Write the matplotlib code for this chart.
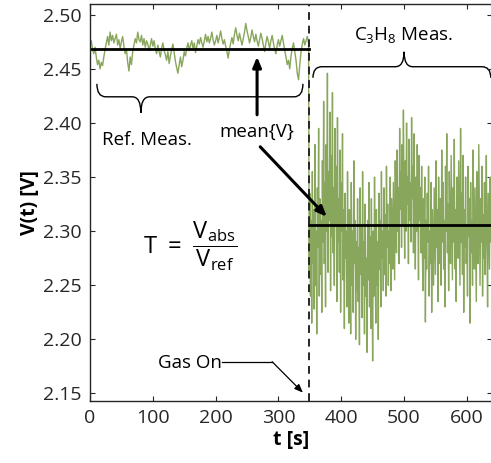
import numpy as np
import matplotlib.pyplot as plt
from matplotlib.path import Path
from matplotlib.patches import PathPatch

plt.rcParams['font.family'] = ['Open Sans', 'DejaVu Sans']
plt.rcParams['mathtext.fontset'] = 'custom'
plt.rcParams['mathtext.rm'] = 'Open Sans'
plt.rcParams['mathtext.it'] = 'Open Sans'
plt.rcParams['mathtext.bf'] = 'Open Sans:bold'

# reference measurement, one value every 2 s from t = 0 to 348 s
ref_values = [
    2.472, 2.476, 2.468, 2.464, 2.470, 2.461, 2.454, 2.458, 2.450, 2.456,
    2.453, 2.461, 2.468, 2.474, 2.480, 2.472, 2.484, 2.476, 2.481, 2.474,
    2.478, 2.482, 2.472, 2.477, 2.469, 2.475, 2.480, 2.471, 2.464, 2.468,
    2.456, 2.448, 2.461, 2.454, 2.466, 2.472, 2.478, 2.474, 2.484, 2.477,
    2.475, 2.481, 2.472, 2.478, 2.470, 2.476, 2.473, 2.467, 2.472, 2.478,
    2.471, 2.476, 2.469, 2.464, 2.472, 2.466, 2.461, 2.469, 2.474, 2.467,
    2.463, 2.458, 2.466, 2.455, 2.462, 2.468, 2.473, 2.465, 2.457, 2.451,
    2.446, 2.454, 2.461, 2.452, 2.458, 2.466, 2.462, 2.469, 2.474, 2.467,
    2.472, 2.476, 2.469, 2.474, 2.465, 2.471, 2.477, 2.473, 2.479, 2.474,
    2.470, 2.476, 2.482, 2.475, 2.480, 2.474, 2.478, 2.484, 2.477, 2.472,
    2.476, 2.481, 2.474, 2.479, 2.485, 2.478, 2.473, 2.477, 2.471, 2.466,
    2.460, 2.468, 2.474, 2.479, 2.473, 2.482, 2.488, 2.481, 2.476, 2.483,
    2.477, 2.472, 2.478, 2.484, 2.492, 2.485, 2.480, 2.474, 2.479, 2.486,
    2.480, 2.475, 2.482, 2.476, 2.471, 2.477, 2.483, 2.478, 2.472, 2.466,
    2.474, 2.480, 2.475, 2.469, 2.476, 2.481, 2.474, 2.468, 2.464, 2.472,
    2.477, 2.471, 2.476, 2.481, 2.474, 2.467, 2.461, 2.454, 2.458, 2.450,
    2.462, 2.469, 2.474, 2.466, 2.458, 2.446, 2.440, 2.454, 2.466, 2.473,
    2.478, 2.472, 2.476, 2.480, 2.474,
]
ref_times = np.arange(0, 349, 2)

# C3H8 measurement, one value every 1 s from t = 348 to 640 s
gas_values = [
    2.300, 2.262, 2.335, 2.240, 2.310, 2.215, 2.355, 2.270, 2.320, 2.228,
    2.380, 2.250, 2.300, 2.205, 2.340, 2.285, 2.395, 2.240, 2.330, 2.260,
    2.310, 2.225, 2.365, 2.290, 2.420, 2.270, 2.345, 2.230, 2.380, 2.300,
    2.446, 2.262, 2.355, 2.310, 2.410, 2.245, 2.370, 2.295, 2.428, 2.280,
    2.340, 2.250, 2.395, 2.305, 2.360, 2.235, 2.405, 2.290, 2.330, 2.262,
    2.375, 2.225, 2.345, 2.300, 2.390, 2.255, 2.320, 2.210, 2.335, 2.275,
    2.300, 2.230, 2.355, 2.262, 2.215, 2.320, 2.280, 2.205, 2.345, 2.250,
    2.300, 2.225, 2.365, 2.270, 2.310, 2.200, 2.290, 2.245, 2.330, 2.235,
    2.285, 2.195, 2.340, 2.260, 2.305, 2.220, 2.355, 2.250, 2.290, 2.205,
    2.325, 2.240, 2.275, 2.188, 2.310, 2.255, 2.345, 2.230, 2.295, 2.210,
    2.330, 2.262, 2.180, 2.300, 2.240, 2.350, 2.270, 2.215, 2.320, 2.250,
    2.290, 2.200, 2.335, 2.265, 2.310, 2.230, 2.355, 2.275, 2.300, 2.245,
    2.340, 2.260, 2.315, 2.240, 2.360, 2.285, 2.325, 2.250, 2.300, 2.270,
    2.350, 2.245, 2.330, 2.290, 2.265, 2.345, 2.300, 2.255, 2.365, 2.310,
    2.280, 2.375, 2.300, 2.340, 2.270, 2.395, 2.320, 2.355, 2.285, 2.380,
    2.305, 2.412, 2.330, 2.275, 2.365, 2.300, 2.400, 2.325, 2.350, 2.270,
    2.385, 2.310, 2.345, 2.290, 2.405, 2.330, 2.360, 2.280, 2.390, 2.315,
    2.265, 2.350, 2.300, 2.380, 2.325, 2.255, 2.370, 2.310, 2.340, 2.280,
    2.360, 2.290, 2.245, 2.330, 2.275, 2.350, 2.216, 2.310, 2.265, 2.335,
    2.290, 2.360, 2.240, 2.300, 2.270, 2.345, 2.225, 2.320, 2.285, 2.250,
    2.340, 2.300, 2.260, 2.365, 2.285, 2.320, 2.235, 2.350, 2.300, 2.270,
    2.330, 2.250, 2.375, 2.290, 2.345, 2.265, 2.310, 2.230, 2.360, 2.300,
    2.390, 2.280, 2.325, 2.245, 2.355, 2.300, 2.270, 2.370, 2.315, 2.255,
    2.340, 2.290, 2.385, 2.265, 2.320, 2.235, 2.350, 2.300, 2.275, 2.365,
    2.310, 2.250, 2.395, 2.290, 2.335, 2.260, 2.370, 2.225, 2.320, 2.285,
    2.350, 2.270, 2.305, 2.240, 2.360, 2.295, 2.330, 2.215, 2.345, 2.280,
    2.310, 2.250, 2.375, 2.300, 2.265, 2.340, 2.285, 2.235, 2.355, 2.300,
    2.270, 2.380, 2.310, 2.250, 2.330, 2.290, 2.360, 2.240, 2.315, 2.275,
    2.345, 2.260, 2.300, 2.370, 2.285, 2.230, 2.335, 2.300, 2.265, 2.350,
    2.290, 2.320, 2.270,
]
gas_times = np.arange(348, 641, 1)

gas_on_time = 348
ref_mean = 2.468
gas_mean = 2.306

xticks = [0, 100, 200, 300, 400, 500, 600]
yticks = [2.15, 2.20, 2.25, 2.30, 2.35, 2.40, 2.45, 2.50]

green = '#88a65c'
dark = '#262626'


def brace(ax, x0, x1, xtip, ybase, yend, ytip, r):
    # curly brace: ends at yend, flat part at ybase, point at ytip
    verts = [(x0, yend), (x0, ybase), (x0 + r, ybase),
             (xtip - r, ybase), (xtip, ybase), (xtip, ytip),
             (xtip, ybase), (xtip + r, ybase),
             (x1 - r, ybase), (x1, ybase), (x1, yend)]
    codes = [Path.MOVETO, Path.CURVE3, Path.CURVE3,
             Path.LINETO, Path.CURVE3, Path.CURVE3,
             Path.CURVE3, Path.CURVE3,
             Path.LINETO, Path.CURVE3, Path.CURVE3]
    ax.add_patch(PathPatch(Path(verts, codes), fill=False, lw=1.0,
                           edgecolor='black', clip_on=False))


fig = plt.figure(figsize=(4.91, 4.63), dpi=100)
ax = fig.add_axes([0.1833, 0.1339, 0.8187, 0.8575])

times = np.concatenate([ref_times, gas_times[1:]])
values = np.concatenate([ref_values, gas_values[1:]])
ax.plot(times, values, color=green, lw=1.0)

ax.plot([0, gas_on_time], [ref_mean, ref_mean], color='black', lw=2.0)
ax.plot([gas_on_time, 640], [gas_mean, gas_mean], color='black', lw=2.0)
ax.axvline(gas_on_time, color=dark, lw=1.4, linestyle=(0, (4, 3)))

ax.set_xlim(0, 640)
ax.set_ylim(2.143, 2.510)
ax.set_xticks(xticks)
ax.set_yticks(yticks)
ax.set_yticklabels([f'{y:.2f}' for y in yticks])
ax.tick_params(direction='in', top=True, right=True, length=3.5, width=0.8,
               labelsize=14, colors=dark, pad=6)
for s in ax.spines.values():
    s.set_color(dark)
    s.set_linewidth(1.0)

ax.set_xlabel('t [s]', fontsize=14, fontweight='bold', labelpad=2)
ax.set_ylabel('V(t) [V]', fontsize=14, fontweight='bold', labelpad=2)

# braces and their labels
brace(ax, 11, 339, 81, 2.4242, 2.4362, 2.4094, 14)
ax.text(91, 2.3845, 'Ref. Meas.', fontsize=13.5, ha='center', va='center')
brace(ax, 355, 638, 500, 2.452, 2.4418, 2.4658, 14)
ax.text(500, 2.4815, 'C$_3$H$_8$ Meas.', fontsize=13.5, ha='center',
        va='center')

# mean annotation
ax.text(266, 2.3919, 'mean{V}', fontsize=13.5, ha='center', va='center')
ax.annotate('', xy=(266, 2.4612), xytext=(266, 2.4076),
            arrowprops=dict(arrowstyle='-|>,head_length=0.6,head_width=0.25',
                            color='black', lw=2.2, shrinkA=0, shrinkB=0))
ax.annotate('', xy=(377, 2.3133), xytext=(271, 2.378),
            arrowprops=dict(arrowstyle='-|>,head_length=0.6,head_width=0.25',
                            color='black', lw=2.2, shrinkA=0, shrinkB=0))

# transmission formula
ax.text(84, 2.2856, r'$\mathrm{T\ =\ \dfrac{V_{abs}}{V_{ref}}}$', fontsize=17,
        ha='left', va='center')

# gas on marker
ax.text(210, 2.1784, 'Gas On', fontsize=13.5, ha='right', va='center')
ax.plot([210, 290], [2.1793, 2.1793], color='black', lw=0.9)
ax.annotate('', xy=(339, 2.1507), xytext=(290, 2.1793),
            arrowprops=dict(arrowstyle='-|>,head_length=0.5,head_width=0.2',
                            color='black', lw=0.9, shrinkA=0, shrinkB=0))

plt.savefig('out.png', dpi=100)
